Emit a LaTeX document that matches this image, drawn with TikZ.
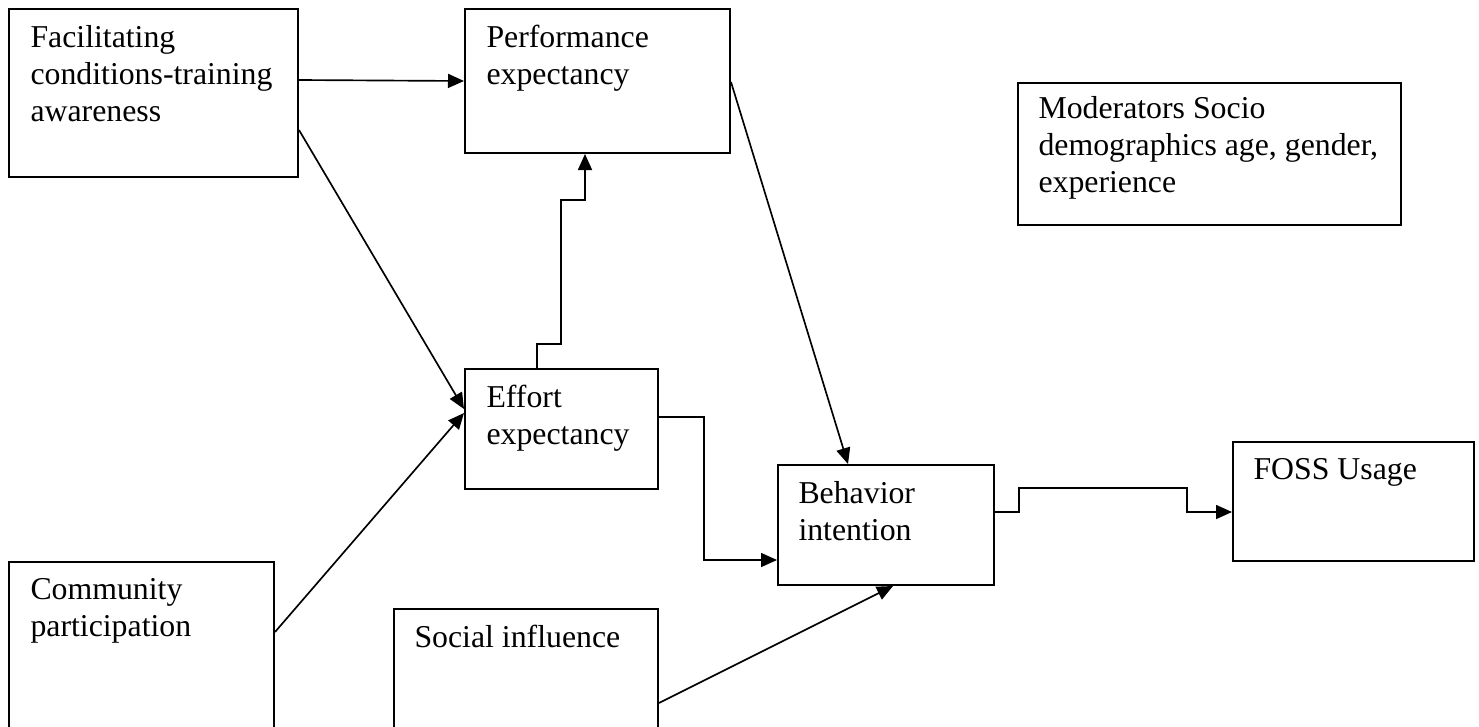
\documentclass[tikz,border=0pt]{standalone}
\usepackage{fontspec}
\setmainfont{Liberation Serif}
\usetikzlibrary{arrows.meta,calc}

\tikzset{every picture/.style={line width=0.75pt}}
\tikzset{
	box/.style={draw, line width=1.5pt, inner sep=0pt, anchor=north west},
	boxtext/.style={anchor=north west, inner sep=0pt, align=left, font=\fontsize{23.85pt}{27.75pt}\selectfont},
	link/.style={line width=1.25pt, -{Triangle[length=12pt,width=10.5pt]}},
	elbow/.style={line width=1.25pt, -{Triangle[length=12pt,width=10.5pt]}}
}

\begin{document}
\begin{tikzpicture}[x=0.75pt,y=0.75pt,yscale=-1,xscale=1]
	\useasboundingbox (0,0) rectangle (1479,726);
	\clip (0,0) rectangle (1479,726);
	
	%Shape: Rectangle [id:fac] 
	\node [box, minimum width=216.75pt, minimum height=126pt] (fac) at (8,8) {};
	%Shape: Rectangle [id:perf] 
	\node [box, minimum width=198.75pt, minimum height=108pt] (perf) at (464,8) {};
	%Shape: Rectangle [id:mod] 
	\node [box, minimum width=287.25pt, minimum height=106.5pt] (mod) at (1017,82) {};
	%Shape: Rectangle [id:eff] 
	\node [box, minimum width=144.75pt, minimum height=90pt] (eff) at (464,368) {};
	%Shape: Rectangle [id:beh] 
	\node [box, minimum width=162pt, minimum height=90pt] (beh) at (777,464) {};
	%Shape: Rectangle [id:foss] 
	\node [box, minimum width=180.75pt, minimum height=89.25pt] (foss) at (1232,441) {};
	%Shape: Rectangle [id:com] 
	\node [box, minimum width=198.75pt, minimum height=135pt] (com) at (8,561) {};
	%Shape: Rectangle [id:soc] 
	\node [box, minimum width=198pt, minimum height=105pt] (soc) at (393,608) {};
	
	%Straight Lines [id:fac-perf] 
	\draw [link] ($(fac.north east)+(0,72)$) -- (perf.west) ;
	%Straight Lines [id:fac-eff] 
	\draw [link] ($(fac.north east)+(0,122)$) -- ($(eff.north west)+(0,41)$) ;
	%Straight Lines [id:com-eff] 
	\draw [link] ($(com.north east)+(0,71)$) -- ($(eff.north west)+(0,45)$) ;
	%Straight Lines [id:perf-beh] 
	\draw [link] ($(perf.north east)+(0,74)$) -- ($(beh.north west)+(71,0)$) ;
	%Straight Lines [id:soc-beh] 
	\draw [link] ($(soc.north east)+(0,95)$) -- ($(beh.south west)+(116,0)$) ;
	%Elbow [id:eff-perf] 
	\draw [elbow] ($(eff.north west)+(73,0)$) -- ++(0,-24) -- ++(24,0) -- ++(0,-144) -- ++(24,0) -- ($(perf.south west)+(121,0)$) ;
	%Elbow [id:eff-beh] 
	\draw [elbow] ($(eff.north east)+(0,49)$) -| ($(beh.north west)+(-73,96)$) -- ($(beh.north west)+(0,96)$) ;
	%Elbow [id:beh-foss] 
	\draw [elbow] ($(beh.north east)+(0,48)$) -- ++(24,0) -- ++(0,-24) -- ++(168,0) -- ++(0,24) -- ($(foss.north west)+(0,71)$) ;
	
	% Text Node
	\node [boxtext] (fac-t) at ($(fac.north west)+(22,17)$) {Facilitating\\conditions-training\\awareness};
	% Text Node
	\node [boxtext] (perf-t) at ($(perf.north west)+(22,17)$) {Performance\\expectancy};
	% Text Node
	\node [boxtext] (mod-t) at ($(mod.north west)+(21,14)$) {Moderators Socio\\demographics age, gender,\\experience};
	% Text Node
	\node [boxtext] (eff-t) at ($(eff.north west)+(22,17)$) {Effort\\expectancy};
	% Text Node
	\node [boxtext] (beh-t) at ($(beh.north west)+(21,17)$) {Behavior\\intention};
	% Text Node
	\node [boxtext] (foss-t) at ($(foss.north west)+(21,17)$) {FOSS Usage};
	% Text Node
	\node [boxtext] (com-t) at ($(com.north west)+(22,17)$) {Community\\participation};
	% Text Node
	\node [boxtext] (soc-t) at ($(soc.north west)+(21,17)$) {Social influence};
	
\end{tikzpicture}
\end{document}
